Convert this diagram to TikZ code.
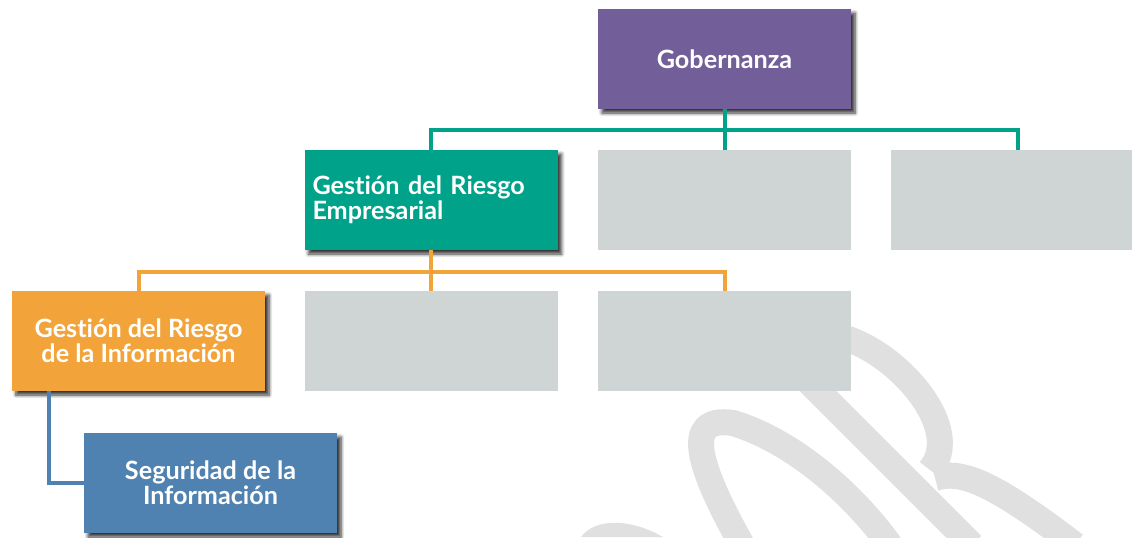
\documentclass[tikz,border=0pt]{standalone}
\usepackage{fontspec}
\newfontfamily\boxfont[Ligatures={NoCommon,NoDiscretionary}]{Lato}
\usetikzlibrary{shadows.blur}
\definecolor{govpurple}{HTML}{725E99}
\definecolor{riskteal}{HTML}{00A389}
\definecolor{riskorange}{HTML}{F2A33A}
\definecolor{secblue}{HTML}{4F82B0}
\definecolor{emptygray}{HTML}{CFD4D4}
\definecolor{markgray}{HTML}{E0E0E0}
\tikzstyle{level}=[rectangle,minimum width=126.5pt,minimum height=50pt,inner sep=4pt,
  text=white,font=\boxfont\bfseries\fontsize{12.6}{12.5}\selectfont,
  blur shadow={shadow xshift=2pt,shadow yshift=-2pt,shadow blur steps=6,shadow opacity=80}]
\tikzstyle{empty}=[rectangle,fill=emptygray,minimum width=126.5pt,minimum height=50pt]
\tikzstyle{link}=[line width=2pt]
\tikzstyle{logoband}=[draw=markgray,line width=13pt]

\begin{document}
\begin{tikzpicture}[x=0.5pt,y=-0.5pt]
  \useasboundingbox (0,0) rectangle (1132,537);
  \clip (0,0) rectangle (1132,537);

  % watermark in the background
  \draw[logoband] (742,545) .. controls (700,470) and (680,415) .. (733,423)
    .. controls (790,440) and (850,490) .. (890,545);
  \draw[logoband] (765,338) -- (972,545);
  \draw[logoband] (845,338) .. controls (900,355) and (965,430) .. (930,470);
  \draw[logoband] (935,478) .. controls (960,470) and (990,480) .. (1075,545);
  \fill[markgray] (581,537) .. controls (595,518) and (630,518) .. (663,537) -- cycle;

  \node[level,fill=govpurple] (gob) at (724.5,59) {Gobernanza};

  \node[level,fill=riskteal,text width=118.5pt,align=left] (gre) at (431,200)
    {Gesti\'on del Riesgo\\Empresarial};
  \node[empty] (g2) at (724.5,200) {};
  \node[empty] (g3) at (1017.5,200) {};

  \node[level,fill=riskorange,align=center] (gri) at (138.5,341)
    {Gesti\'on del Riesgo\\de la Informaci\'on};
  \node[empty] (g4) at (431,341) {};
  \node[empty] (g5) at (724.5,341) {};

  \node[level,fill=secblue,align=center] (sec) at (210.5,483)
    {Seguridad de la\\Informaci\'on};

  \coordinate (bus1) at (724.5,130);
  \coordinate (bus2) at (431,272);

  \draw[link,riskteal] (gob.south) -- (g2.north);
  \draw[link,riskteal] (gre.north) |- (bus1) -| (g3.north);

  \draw[link,riskorange] (gre.south) -- (g4.north);
  \draw[link,riskorange] (gri.north) |- (bus2) -| (g5.north);

  \draw[link,secblue] ([xshift=18.5pt]gri.south west) |- (sec.west);
\end{tikzpicture}
\end{document}
